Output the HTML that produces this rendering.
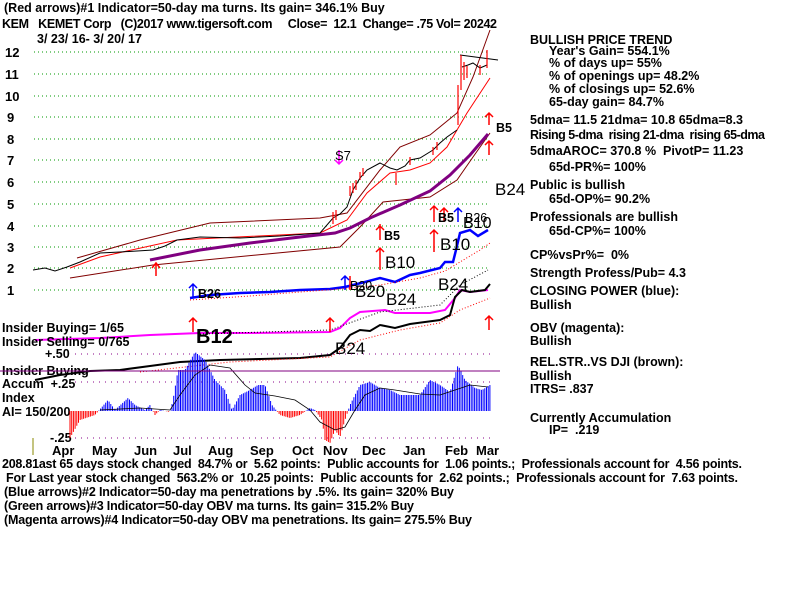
<!DOCTYPE html>
<html><head><meta charset="utf-8"><style>
body{margin:0;background:#fff;width:800px;height:600px;overflow:hidden}
svg{display:block;font-family:"Liberation Sans",sans-serif;font-weight:bold;font-size:12.5px}
text{fill:#000;white-space:pre}
</style></head><body>
<svg id="s" width="800" height="600" viewBox="0 0 800 600" xml:space="preserve">
<text x="4" y="12">(Red arrows)#1 Indicator=50-day ma turns. Its gain= 346.1% Buy</text>
<text x="2" y="28" textLength="495">KEM   KEMET Corp   (C)2017 www.tigersoft.com     Close=  12.1  Change= .75 Vol= 20242</text>
<text x="37" y="43">3/ 23/ 16- 3/ 20/ 17</text>
<g font-size="13">
<text x="5" y="57">12</text><text x="5" y="79">11</text><text x="5" y="101">10</text><text x="7" y="122">9</text><text x="7" y="144">8</text><text x="7" y="165">7</text><text x="7" y="187">6</text><text x="7" y="209">5</text><text x="7" y="231">4</text><text x="7" y="252">3</text><text x="7" y="273">2</text><text x="7" y="295">1</text>
</g>
<g stroke="#090" stroke-dasharray="1,3" stroke-width="1">
<line x1="34" y1="52" x2="490" y2="52"/><line x1="34" y1="74" x2="490" y2="74"/><line x1="34" y1="96" x2="490" y2="96"/><line x1="34" y1="117" x2="490" y2="117"/><line x1="34" y1="139" x2="490" y2="139"/><line x1="34" y1="160" x2="490" y2="160"/><line x1="34" y1="182" x2="490" y2="182"/><line x1="34" y1="204" x2="490" y2="204"/><line x1="34" y1="226" x2="490" y2="226"/><line x1="34" y1="247" x2="490" y2="247"/><line x1="34" y1="268" x2="490" y2="268"/><line x1="34" y1="290" x2="490" y2="290"/>
</g>
<g fill="none">
<polyline stroke="#800000" points="77,258 140,240 210,223 320,218 347,213 380,170 400,147 430,135 457,113 473,77 490,30"/>
<polyline stroke="#800000" points="70,278 153,265 340,247 360,227 383,202 430,197 457,180 473,157 490,133"/>
<polyline stroke="#f00" points="70,268 100,257 177,240 320,233 347,220 367,193 390,173 410,170 430,163 447,147 467,113 490,78"/>
<polyline stroke="#800080" stroke-width="3" points="150,260 200,250 250,243 300,237 335,233 350,228 370,218 400,205 430,191 450,175 470,155 488,134"/>
<polyline stroke="#000" points="33,270 45,268 55,271 67,267 80,262 100,253 120,252 153,250 165,246 177,240 200,237 240,238 280,236 320,233 333,218 340,214 347,207 353,190 360,178 367,170 380,163 390,168 397,170 405,166 410,160 420,158 433,150 440,143 447,137 457,130"/>
<polyline stroke="#000" points="462,67 468,65 473,63 480,68 487,65"/>
<line x1="460" y1="55" x2="498" y2="60" stroke="#000"/>
<polyline stroke="#00f" stroke-width="2.5" points="190,298 210,295 240,293 270,292 300,290 330,289 345,287 365,282 380,278 395,282 410,275 420,273 440,268 445,262 453,262 456,250 460,233 470,230 478,236 488,230"/>
<polyline stroke="#f00" stroke-dasharray="1,2" points="190,300 250,296 300,292 340,289 380,285 420,278 445,271 460,262 480,250 490,243"/>
<polyline stroke="#f0f" stroke-width="2" points="35,340 100,338 150,335 200,333 250,333 330,332 340,328 350,318 360,312 385,310 395,313 430,313 445,310 455,298 460,290 470,292 488,290"/>
<polyline stroke="#000" stroke-dasharray="1,2" points="200,334 330,330 380,312 440,305 460,285 488,270"/>
<polyline stroke="#000" stroke-width="2" points="35,380 60,375 90,371 120,370 150,366 180,362 220,360 260,359 300,358 330,355 340,348 350,335 360,330 370,331 380,325 395,328 410,324 425,322 440,320 450,315 455,297 462,290 470,292 485,290 490,284"/>
<polyline stroke="#f00" stroke-dasharray="1,2" points="140,372 230,362 330,357 360,340 400,330 440,323 460,310 490,298"/>
</g>
<g stroke="#f00" stroke-width="1.2"><path d="M333,224v-12M336,220v-10M350,196v-10M353,193v-10M356,190v-10M360,180v-8M363,176v-8M396,185v-12M410,165v-8M433,155v-8M437,150v-8M458,125v-40M461,90v-35M464,80v-18M467,78v-12M480,75v-10M487,68v-18"/></g>
<g stroke="#f00" fill="none" stroke-width="1.5">
<path d="M156,276v-12M152,268l4,-5 4,5"/>
<path d="M380,270v-22M376,252l4,-4 4,4M380,240v-16M376,230l4,-4 4,4M434,252v-22M430,234l4,-4 4,4M434,222v-16M430,210l4,-4 4,4M489,155v-14M485,145l4,-4 4,4M489,125v-12M485,117l4,-4 4,4M489,330v-14M485,320l4,-4 4,4M193,332v-14M189,322l4,-4 4,4M330,332v-14M326,322l4,-4 4,4M444,222v-14M440,212l4,-4 4,4M350,290v-14"/>
</g>
<g stroke="#00f" fill="none" stroke-width="1.5"><path d="M193,298v-14M189,288l4,-4 4,4M345,290v-14M341,280l4,-4 4,4M458,222v-14M454,212l4,-4 4,4"/></g>
<path d="M339,150v14M335,160l4,4 4,-4" stroke="#f0f" fill="none" stroke-width="1.5"/>
<text x="335" y="160" font-size="13" font-weight="normal">S7</text>
<text x="384" y="240">B5</text><text x="438" y="222">B5</text><text x="496" y="132">B5</text>
<text x="385" y="268" font-size="17" font-weight="normal">B10</text><text x="440" y="250" font-size="17" font-weight="normal">B10</text><text x="463" y="228" font-size="16" font-weight="normal">B10</text><text x="465" y="222" font-weight="normal">B26</text>
<text x="495" y="195" font-size="17" font-weight="normal">B24</text><text x="438" y="290" font-size="17" font-weight="normal">B24</text><text x="386" y="305" font-size="17" font-weight="normal">B24</text><text x="335" y="354" font-size="17" font-weight="normal">B24</text>
<text x="355" y="297" font-size="17" font-weight="normal">B20</text><text x="350" y="290" font-weight="normal">B20</text><text x="198" y="298">B26</text>
<text x="196" y="343" font-size="20">B12</text>
<text x="2" y="332">Insider Buying= 1/65</text>
<text x="2" y="346">Insider Selling= 0/765</text>
<text x="45" y="358">+.50</text>
<text x="2" y="375">Insider Buying</text>
<text x="2" y="388">Accum  +.25</text>
<text x="2" y="402">Index</text>
<text x="2" y="416">AI= 150/200</text>
<text x="50" y="442">-.25</text>
<line x1="33" y1="438" x2="33" y2="455" stroke="#880"/>
<g stroke="#808" stroke-dasharray="1,5"><line x1="75" y1="354" x2="490" y2="354"/><line x1="75" y1="382" x2="490" y2="382"/><line x1="75" y1="438" x2="490" y2="438"/></g>
<g id="ai"></g>
<polyline fill="none" stroke="#000" stroke-width="0.8" points="100,410 140,408 170,410 180,395 195,375 210,365 230,368 245,385 255,393 275,396 295,400 310,410 320,422 335,430 345,427 355,410 365,395 380,388 395,390 420,394 440,395 455,390 470,385 488,387"/>
<line x1="0" y1="371" x2="500" y2="371" stroke="#800080"/>
<g font-size="13"><text x="52" y="455">Apr</text><text x="92" y="455">May</text><text x="134" y="455">Jun</text><text x="173" y="455">Jul</text><text x="208" y="455">Aug</text><text x="250" y="455">Sep</text><text x="292" y="455">Oct</text><text x="323" y="455">Nov</text><text x="362" y="455">Dec</text><text x="403" y="455">Jan</text><text x="445" y="455">Feb</text><text x="476" y="455">Mar</text></g>
<text x="2" y="468" textLength="740">208.81ast 65 days stock changed  84.7% or  5.62 points:  Public accounts for  1.06 points.;  Professionals account for  4.56 points.</text>
<text x="6" y="482" textLength="732">For Last year stock changed  563.2% or  10.25 points:  Public accounts for  2.62 points.;  Professionals account for  7.63 points.</text>
<text x="4" y="496" textLength="450">(Blue arrows)#2 Indicator=50-day ma penetrations by .5%. Its gain= 320% Buy</text>
<text x="4" y="510" textLength="410">(Green arrows)#3 Indicator=50-day OBV ma turns. Its gain= 315.2% Buy</text>
<text x="4" y="524" textLength="468">(Magenta arrows)#4 Indicator=50-day OBV ma penetrations. Its gain= 275.5% Buy</text>
<g>
<text x="530" y="44">BULLISH PRICE TREND</text>
<text x="549" y="55">Year's Gain= 554.1%</text>
<text x="549" y="67">% of days up= 55%</text>
<text x="549" y="80">% of openings up= 48.2%</text>
<text x="549" y="93">% of closings up= 52.6%</text>
<text x="549" y="106">65-day gain= 84.7%</text>
<text x="530" y="124">5dma= 11.5 21dma= 10.8 65dma=8.3</text>
<text x="530" y="139" textLength="235">Rising 5-dma  rising 21-dma  rising 65-dma</text>
<text x="530" y="155">5dmaAROC= 370.8 %  PivotP= 11.23</text>
<text x="549" y="171">65d-PR%= 100%</text>
<text x="530" y="189">Public is bullish</text>
<text x="549" y="203">65d-OP%= 90.2%</text>
<text x="530" y="221">Professionals are bullish</text>
<text x="549" y="235">65d-CP%= 100%</text>
<text x="530" y="259">CP%vsPr%=  0%</text>
<text x="530" y="277">Strength Profess/Pub= 4.3</text>
<text x="530" y="295">CLOSING POWER (blue):</text>
<text x="530" y="309">Bullish</text>
<text x="530" y="332">OBV (magenta):</text>
<text x="530" y="345">Bullish</text>
<text x="530" y="366">REL.STR..VS DJI (brown):</text>
<text x="530" y="380">Bullish</text>
<text x="530" y="393">ITRS= .837</text>
<text x="530" y="422">Currently Accumulation</text>
<text x="549" y="434">IP=  .219</text>
</g>
</svg>
<script>
var p=[[70,438],[80,420],[95,415],[108,400],[115,410],[128,398],[135,405],[145,410],[150,405],[155,415],[160,410],[170,412],[173,400],[178,370],[185,370],[195,352],[205,360],[215,380],[225,390],[232,410],[240,395],[250,390],[258,385],[265,385],[272,405],[280,415],[290,418],[300,415],[310,408],[315,410],[322,420],[325,440],[330,443],[335,430],[340,437],[345,420],[350,405],[360,385],[370,382],[380,388],[390,390],[400,395],[410,395],[420,395],[430,380],[440,385],[450,392],[458,365],[465,380],[475,388],[482,390],[490,385]];
var g=document.getElementById('ai'),z=411,s='';
for(var x=70;x<=490;x+=1.7){for(var i=0;i<p.length-1&&p[i+1][0]<x;i++);var a=p[i],b=p[i+1]||a;var t=b[0]>a[0]?(x-a[0])/(b[0]-a[0]):0;var y=a[1]+(b[1]-a[1])*t;
s+='<line x1="'+x+'" x2="'+x+'" y1="'+z+'" y2="'+y+'" stroke="'+(y>z?'#f00':'#00f')+'" stroke-width="1"/>';}
g.innerHTML=s;
</script>
</body></html>
